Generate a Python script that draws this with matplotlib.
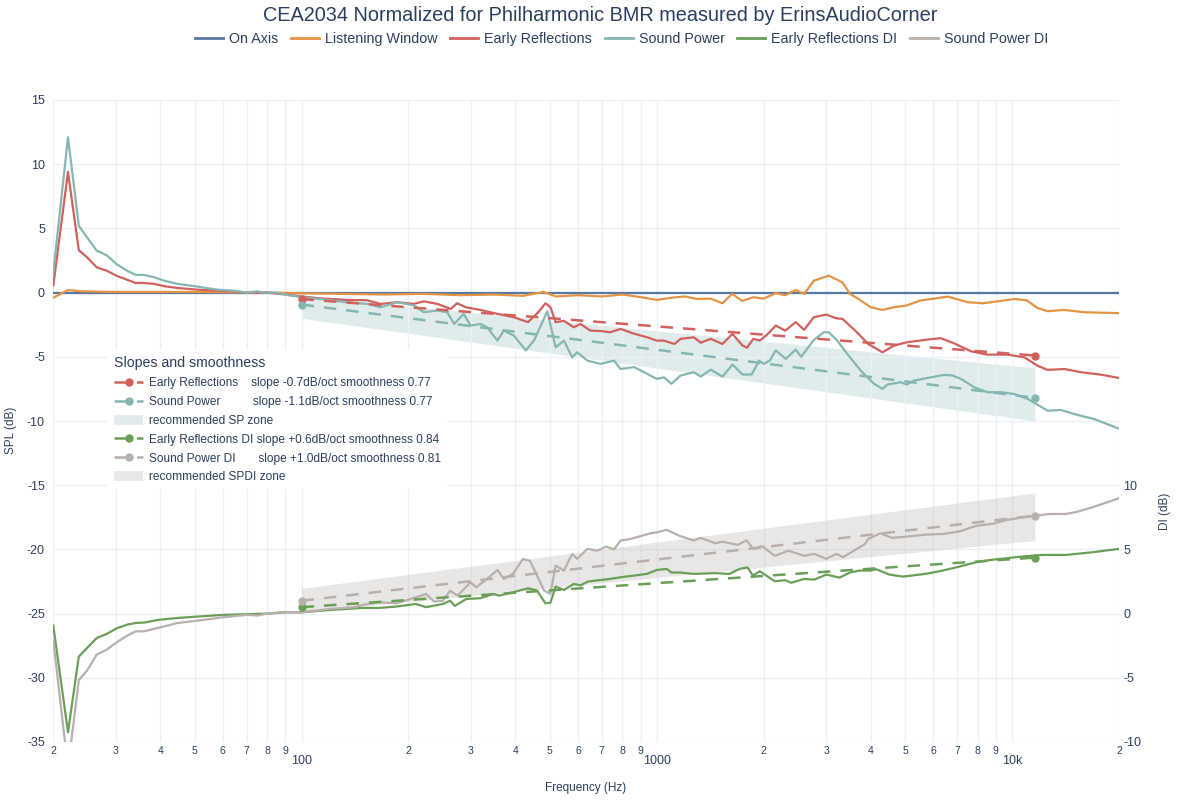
import numpy as np
import matplotlib
matplotlib.use("Agg")
import matplotlib.pyplot as plt
from matplotlib.lines import Line2D

plt.rcParams['font.family'] = ['Liberation Sans', 'DejaVu Sans']
plt.rcParams['axes.unicode_minus'] = False

# ---- data ----
title = "CEA2034 Normalized for Philharmonic BMR measured by ErinsAudioCorner"

freq_on = [20, 20000]
on_axis = [0, 0]

freq_lw = [20, 22, 24, 30, 50, 80, 100, 130, 170, 220, 280, 350, 420, 480, 520, 600, 700, 800,
           900, 1000, 1100, 1200, 1300, 1420, 1530, 1630, 1740, 1870, 2000, 2160, 2300, 2460,
           2600, 2770, 3050, 3330, 3500, 3700, 4000, 4320, 4650, 5060, 5520, 6600, 7500, 8300,
           9300, 10150, 11000, 11800, 12600, 14000, 16000, 20000]
lw = [-0.4, 0.2, 0.1, 0.05, 0.05, 0.0, -0.05, -0.1, -0.15, -0.1, -0.2, -0.15, -0.25, 0.05, -0.3,
      -0.2, -0.3, -0.15, -0.35, -0.57, -0.4, -0.3, -0.5, -0.47, -0.83, -0.1, -0.65, -0.36, -0.47,
      -0.05, -0.2, 0.2, -0.1, 0.93, 1.32, 0.8, -0.1, -0.5, -1.14, -1.35, -1.14, -1.0, -0.62, -0.31,
      -0.75, -0.83, -0.65, -0.5, -0.6, -1.2, -1.45, -1.35, -1.53, -1.6]

freq_er = [20, 22, 23.6, 24.9, 26.5, 28.3, 30.2, 32.3, 34.1, 35.9, 38.4, 41, 44.7, 50.8, 57.8,
           64.3, 70.3, 80, 90, 100, 113, 134, 153, 167, 186, 207, 221, 241, 263, 274, 290, 319,
           356, 396, 434, 464, 486, 502, 519, 548, 584, 610, 650, 700, 739, 791, 863, 940, 1000,
           1047, 1122, 1167, 1271, 1330, 1419, 1531, 1634, 1740, 1795, 1870, 1950, 2040, 2163,
           2300, 2462, 2600, 2766, 3000, 3200, 3334, 3620, 3940, 4320, 4650, 5060, 5780, 6300,
           6860, 7670, 8530, 9710, 10840, 11800, 12600, 14050, 15640, 17800, 20000]
er = [0.55, 9.4, 3.3, 2.75, 1.97, 1.7, 1.3, 1.0, 0.75, 0.75, 0.68, 0.5, 0.36, 0.23, 0.15,
      0.1, 0.0, 0.0, -0.15, -0.3, -0.45, -0.57, -0.6, -0.88, -0.75, -0.88, -0.68, -0.88, -1.27,
      -0.83, -1.14, -1.35, -1.66, -1.92, -2.3, -1.53, -0.83, -1.14, -2.3, -2.2, -2.7, -2.44,
      -2.96, -3.0, -3.09, -2.83, -3.2, -3.48, -3.74, -3.74, -4.0, -3.6, -3.48, -3.9, -3.6, -4.0,
      -3.22, -4.1, -4.3, -3.6, -3.74, -3.3, -2.57, -2.96, -2.3, -2.9, -1.92, -1.71, -2.0, -2.05,
      -2.96, -4.0, -4.65, -4.13, -3.87, -3.66, -3.55, -3.94, -4.57, -4.83, -4.83, -5.04, -5.69,
      -6.02, -5.95, -6.2, -6.39, -6.65]

freq_sp = [20, 22, 23.6, 24.9, 26.5, 28.3, 30.2, 32.3, 34.1, 35.9, 38.4, 41, 44.7, 50.8, 57.8,
           64.3, 70.3, 75, 78, 85, 91, 100, 113, 134, 153, 167, 186, 207, 221, 241, 257, 269,
           286, 299, 319, 333, 356, 371, 396, 428, 451, 492, 519, 548, 578, 597, 638, 695, 758,
           791, 863, 940, 1000, 1047, 1100, 1167, 1271, 1330, 1419, 1531, 1634, 1743, 1850,
           1942, 2000, 2080, 2163, 2307, 2462, 2550, 2766, 2952, 3052, 3222, 3440, 3750, 4090,
           4320, 4460, 4860, 5060, 5300, 5780, 6440, 6800, 7180, 7830, 8530, 9310, 10150, 11070,
           12600, 13740, 15300, 17060, 20000]
sp = [1.56, 12.1, 5.2, 4.3, 3.27, 2.9, 2.2, 1.7, 1.38, 1.38, 1.2, 0.93, 0.68, 0.47, 0.23,
      0.15, 0.0, 0.1, 0.0, 0.0, -0.18, -0.35, -0.5, -0.75, -0.88, -1.14, -0.75, -1.0, -1.53,
      -1.4, -1.53, -2.44, -1.66, -2.57, -2.44, -2.7, -3.74, -2.96, -3.35, -4.5, -3.74, -1.45,
      -4.26, -3.74, -5.04, -4.65, -5.3, -5.55, -5.3, -5.95, -5.8, -6.33, -6.72, -6.6, -7.1,
      -6.46, -6.2, -6.54, -6.0, -6.54, -5.6, -6.38, -6.38, -5.3, -5.55, -5.3, -4.5, -5.16,
      -4.44, -5.0, -3.7, -3.09, -3.09, -3.74, -4.78, -6.07, -7.1, -7.5, -7.16, -6.98, -7.16,
      -6.85, -6.65, -6.41, -6.45, -6.72, -7.37, -7.76, -7.76, -7.9, -8.28, -9.2, -9.14, -9.53,
      -9.85, -10.6]

freq_erdi = [20, 22, 23.6, 26.5, 28.3, 30.2, 32.3, 34.1, 36, 39.5, 44.7, 51, 60, 70, 80, 90,
             100, 120, 148, 165, 185, 210, 224, 250, 262, 270, 291, 319, 346, 360, 394, 434,
             460, 486, 502, 519, 548, 584, 610, 640, 739, 791, 863, 940, 1000, 1066, 1100,
             1160, 1270, 1460, 1600, 1710, 1800, 1866, 1950, 2148, 2300, 2392, 2600, 2780,
             3001, 3270, 3500, 3724, 4000, 4150, 4520, 4930, 5730, 6380, 7110, 7920, 8830,
             9840, 10960, 12200, 14200, 16850, 20000]
erdi = [-0.93, -9.24, -3.35, -1.9, -1.58, -1.14, -0.86, -0.73, -0.7, -0.49, -0.34, -0.23,
        -0.1, -0.05, 0.0, 0.1, 0.1, 0.28, 0.44, 0.44, 0.55, 0.75, 0.5, 0.75, 1.01, 0.6, 1.14,
        1.2, 1.53, 1.4, 1.66, 1.97, 1.8, 0.8, 0.85, 2.1, 1.84, 2.31, 2.2, 2.5, 2.7, 2.83, 2.96,
        3.1, 3.4, 3.48, 3.2, 3.2, 3.09, 3.15, 3.09, 3.48, 3.6, 2.96, 3.3, 2.52, 2.6, 2.4, 2.7,
        2.65, 3.04, 2.8, 3.2, 3.35, 3.35, 3.45, 3.04, 2.88, 3.1, 3.35, 3.66, 4.0, 4.2, 4.34,
        4.47, 4.57, 4.57, 4.78, 5.04]

freq_spdi = [20, 22, 23.6, 24.9, 26.5, 28.3, 30.2, 32.3, 34.1, 36, 38.4, 41, 44.7, 51, 60,
             70, 75, 80, 90, 100, 120, 140, 150, 165, 185, 210, 224, 236, 250, 262, 275, 299,
             310, 333, 356, 371, 394, 420, 440, 482, 502, 519, 548, 578, 597, 638, 680, 720,
             758, 791, 840, 960, 1000, 1066, 1160, 1270, 1330, 1460, 1530, 1690, 1790, 1870,
             1980, 2150, 2350, 2600, 2780, 3000, 3200, 3350, 3720, 3850, 3940, 4260, 4600,
             5060, 5730, 6380, 7110, 7920, 8830, 9710, 10500, 11600, 12800, 14200, 15300,
             16850, 20000]
spdi = [-2.1, -12.0, -5.17, -4.44, -3.19, -2.8, -2.23, -1.71, -1.38, -1.38, -1.19, -1.0,
        -0.73, -0.55, -0.29, -0.1, -0.15, 0.0, 0.13, 0.1, 0.36, 0.49, 0.7, 0.88, 0.8, 1.27,
        1.53, 0.94, 1.0, 1.79, 1.4, 2.44, 2.05, 2.7, 3.4, 2.7, 3.1, 4.26, 4.1, 1.79, 1.53,
        3.74, 3.35, 4.65, 4.26, 5.04, 4.9, 5.22, 5.0, 5.69, 5.8, 6.25, 6.33, 6.52, 6.05, 5.7,
        5.9, 5.48, 5.6, 5.35, 5.7, 5.04, 5.25, 4.5, 4.9, 4.5, 4.65, 4.26, 4.65, 4.4, 5.16,
        5.4, 5.82, 6.25, 5.9, 6.0, 6.15, 6.2, 6.4, 6.83, 7.0, 7.3, 7.45, 7.63, 7.76, 7.76,
        7.94, 8.28, 8.98]

# regression lines and recommended zones (start / end frequency)
fit_freq = [100, 11600]
er_fit = [-0.5, -4.9]
sp_fit = [-0.93, -8.2]
erdi_fit = [0.5, 4.36]
spdi_fit = [1.0, 7.63]
sp_zone_top = [-0.25, -5.87]
sp_zone_bottom = [-2.0, -10.0]
spdi_zone_top = [1.97, 9.4]
spdi_zone_bottom = [0.1, 5.69]

slope_labels = [
    "Early Reflections    slope -0.7dB/oct smoothness 0.77",
    "Sound Power          slope -1.1dB/oct smoothness 0.77",
    "recommended SP zone",
    "Early Reflections DI slope +0.6dB/oct smoothness 0.84",
    "Sound Power DI       slope +1.0dB/oct smoothness 0.81",
    "recommended SPDI zone",
]

minor_ticks = [20, 30, 40, 50, 60, 70, 80, 90, 200, 300, 400, 500, 600, 700, 800, 900,
               2000, 3000, 4000, 5000, 6000, 7000, 8000, 9000, 20000]
minor_labels = ["2", "3", "4", "5", "6", "7", "8", "9"] * 3 + ["2"]
major_ticks = [100, 1000, 10000]
major_labels = ["100", "1000", "10k"]

c_on, c_lw, c_er, c_sp, c_erdi, c_spdi = "#5778a4", "#e49444", "#d1615d", "#85b6b2", "#6a9f58", "#b8b0ac"
txt = "#2a3f5f"
grid = "#ebf0f8"

fig = plt.figure(figsize=(12, 8), dpi=100)
ax = fig.add_axes([0.0444, 0.0725, 0.888, 0.8025])
ax2 = ax.twinx()

lw_main = 1.6
ax.fill_between(fit_freq, sp_zone_bottom, sp_zone_top, color=c_sp, alpha=0.25, lw=0, zorder=1)
ax.plot(freq_on, on_axis, color=c_on, lw=lw_main, label="On Axis", zorder=3)
ax.plot(freq_lw, lw, color=c_lw, lw=lw_main, label="Listening Window", zorder=3)
ax.plot(freq_er, er, color=c_er, lw=lw_main, label="Early Reflections", zorder=3)
ax.plot(freq_sp, sp, color=c_sp, lw=lw_main, label="Sound Power", zorder=3)
h_er, = ax.plot(fit_freq, er_fit, color=c_er, lw=1.8, dashes=(5, 4), marker="o", ms=5, zorder=4)
h_sp, = ax.plot(fit_freq, sp_fit, color=c_sp, lw=1.8, dashes=(5, 4), marker="o", ms=5, zorder=4)

ax2.fill_between(fit_freq, spdi_zone_bottom, spdi_zone_top, color=c_spdi, alpha=0.3, lw=0, zorder=1)
ax2.plot(freq_erdi, erdi, color=c_erdi, lw=lw_main, label="Early Reflections DI", zorder=3)
ax2.plot(freq_spdi, spdi, color=c_spdi, lw=lw_main, label="Sound Power DI", zorder=3)
h_erdi, = ax2.plot(fit_freq, erdi_fit, color=c_erdi, lw=1.8, dashes=(5, 4), marker="o", ms=5, zorder=4)
h_spdi, = ax2.plot(fit_freq, spdi_fit, color=c_spdi, lw=1.8, dashes=(5, 4), marker="o", ms=5, zorder=4)

ax.set_xscale("log")
ax.set_xlim(20, 20000)
ax.set_ylim(-35, 15)
ax.set_yticks(np.arange(-35, 16, 5))
ax2.set_ylim(-10, 40)
ax2.set_yticks([-10, -5, 0, 5, 10])

ax.set_xticks(major_ticks, labels=major_labels)
ax.set_xticks(minor_ticks, labels=minor_labels, minor=True)
ax.tick_params(axis="x", which="major", length=0, pad=9, labelsize=9, labelcolor=txt)
ax.tick_params(axis="x", which="minor", length=0, pad=3, labelsize=7.5, labelcolor=txt)
ax.tick_params(axis="y", length=0, pad=6, labelsize=9, labelcolor=txt)
ax2.tick_params(axis="y", length=0, pad=3, labelsize=9, labelcolor=txt)

ax.grid(True, which="both", color=grid, lw=1.0, zorder=0)
for a in (ax, ax2):
    for s in a.spines.values():
        s.set_visible(False)

ax.set_xlabel("Frequency (Hz)", fontsize=8.5, color=txt)
ax.xaxis.set_label_coords(0.5, -0.063)
ax.set_ylabel("SPL (dB)", fontsize=8.5, color=txt)
ax.yaxis.set_label_coords(-0.034, 0.486)
ax2.set_ylabel("DI (dB)", fontsize=8.5, color=txt)
ax2.yaxis.set_label_coords(1.038, 0.36)

fig.suptitle(title, x=0.5, y=0.981, fontsize=14.3, color=txt, va="center")

main_handles = [Line2D([], [], color=c, lw=2) for c in (c_on, c_lw, c_er, c_sp, c_erdi, c_spdi)]
main_labels = ["On Axis", "Listening Window", "Early Reflections", "Sound Power",
               "Early Reflections DI", "Sound Power DI"]
fig.legend(main_handles, main_labels, loc="center", bbox_to_anchor=(0.518, 0.951), ncol=6,
           frameon=False, fontsize=10.3, handlelength=1.95, handletextpad=0.42, columnspacing=0.9,
           labelcolor=txt)

zone_sp = Line2D([], [], color=c_sp, alpha=0.25, lw=7, solid_capstyle="butt")
zone_spdi = Line2D([], [], color=c_spdi, alpha=0.3, lw=7, solid_capstyle="butt")
leg = ax2.legend([h_er, h_sp, zone_sp, h_erdi, h_spdi, zone_spdi], slope_labels,
                 title="Slopes and smoothness", loc="upper left", bbox_to_anchor=(0.046, 0.62),
                 fontsize=8.6, title_fontsize=10.2, frameon=True, fancybox=False,
                 edgecolor="white", framealpha=1.0, labelcolor=txt, handlelength=2.4,
                 handletextpad=0.5, labelspacing=0.58, borderpad=0.5, alignment="left")
leg.get_title().set_color(txt)
leg.get_frame().set_linewidth(0)

fig.savefig("out.png", dpi=100)
